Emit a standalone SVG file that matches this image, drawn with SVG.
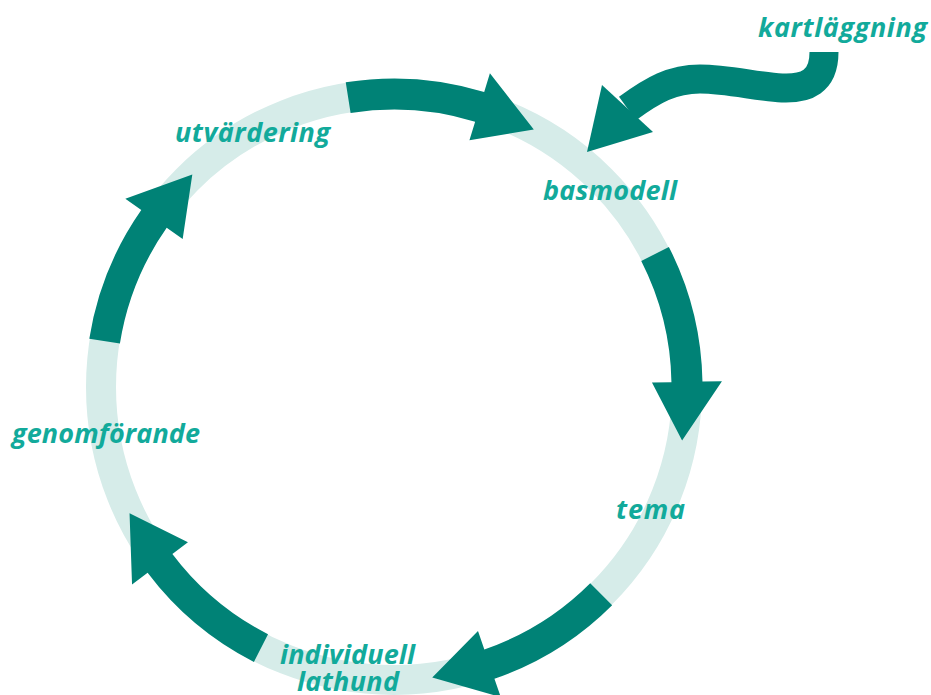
<svg xmlns="http://www.w3.org/2000/svg" width="931" height="695" viewBox="0 0 931 695">
<defs>
<style>
.ring{fill:none;stroke:#d6ece9;stroke-width:30}
.arr{fill:#008276}
.lbl{font-family:"Open Sans","Noto Sans","DejaVu Sans",sans-serif;font-weight:700;font-style:italic;font-size:27px;fill:#12aa9b}
</style>
<path id="cyc" d="M308.5,0 A308.5,308.5 0 0 1 277.28,135.24 L294.80,143.79 L232.45,178.37 L231.89,113.10 L249.41,121.65 A277.5,277.5 0 0 0 277.5,0 Z"/>
</defs>
<rect width="931" height="695" fill="#ffffff"/>
<g id="ring"><circle class="ring" cx="394" cy="387" r="293"/></g>
<g id="connectors">
<use href="#cyc" class="arr" transform="translate(394 387) rotate(261)"/>
<use href="#cyc" class="arr" transform="translate(394 387) rotate(333)"/>
<use href="#cyc" class="arr" transform="translate(394 387) rotate(45)"/>
<use href="#cyc" class="arr" transform="translate(394 387) rotate(117)"/>
<use href="#cyc" class="arr" transform="translate(394 387) rotate(189)"/>
<g id="kart-arrow">
<path d="M824,52 C824,82 806,89 782,88 C758,87 728,79 700,79 C672,79 653,90 627.5,108.5" fill="none" stroke="#008276" stroke-width="29"/>
<polygon class="arr" points="602,85 653,132 587,152"/>
</g>
</g>
<g id="kartlaggning"><text class="lbl" x="758" y="37" textLength="169" lengthAdjust="spacing">kartläggning</text></g>
<g id="basmodell"><text class="lbl" x="543" y="200" textLength="134" lengthAdjust="spacing">basmodell</text></g>
<g id="tema"><text class="lbl" x="616" y="519" textLength="69" lengthAdjust="spacing">tema</text></g>
<g id="lathund"><text class="lbl" x="280" y="664" textLength="135" lengthAdjust="spacing">individuell</text><text class="lbl" x="297" y="691" textLength="102" lengthAdjust="spacing">lathund</text></g>
<g id="genomforande"><text class="lbl" x="12" y="443" textLength="188" lengthAdjust="spacing">genomförande</text></g>
<g id="utvardering"><text class="lbl" x="175" y="142" textLength="155" lengthAdjust="spacing">utvärdering</text></g>
</svg>
